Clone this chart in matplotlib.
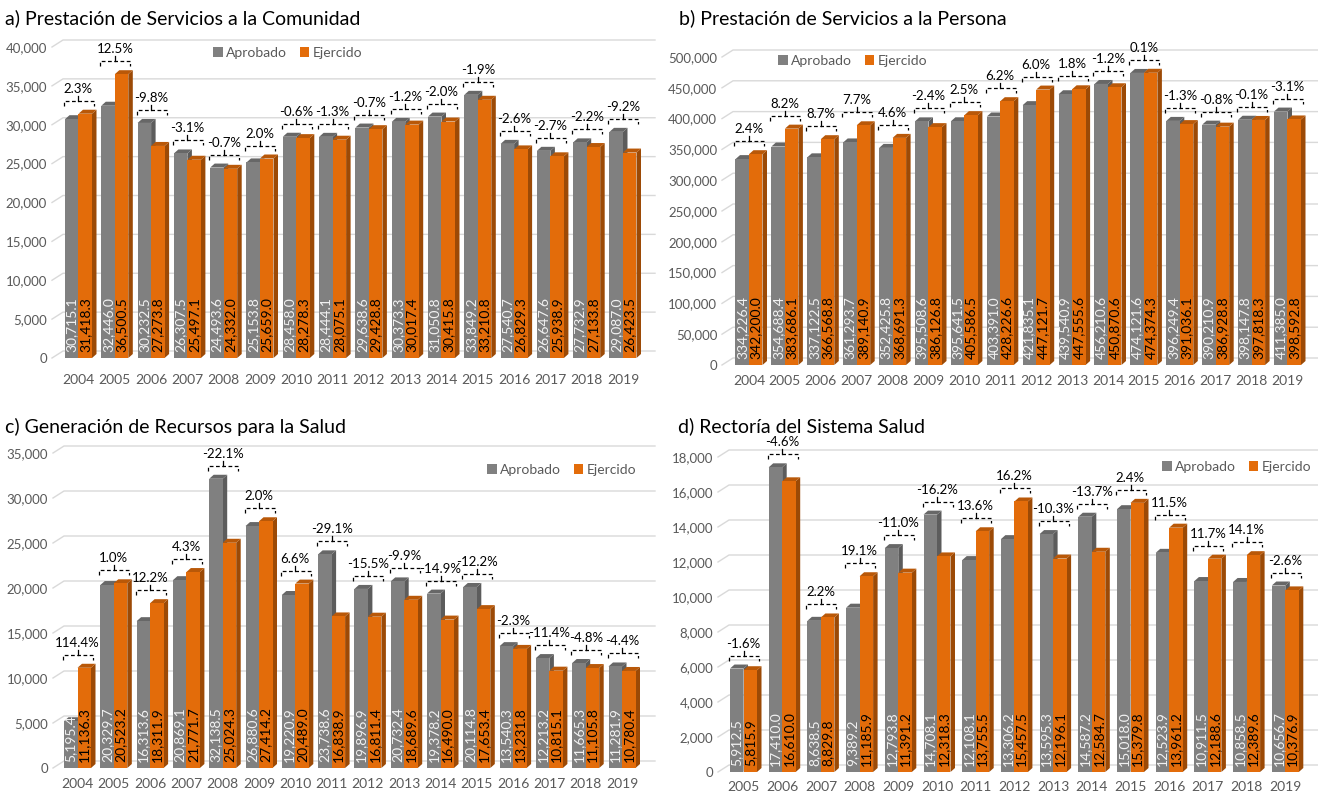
import matplotlib
matplotlib.use("Agg")
import matplotlib.pyplot as plt
from matplotlib.patches import Polygon, Rectangle, Patch

plt.rcParams["font.family"] = ["Lato", "DejaVu Sans"]

W, H, DPI = 1318, 793, 100

# ---- data -------------------------------------------------------------
years_a = list(range(2004, 2020))
aprobado_a = [30715.1, 32446.0, 30232.5, 26307.5, 24493.6, 25153.8, 28458.0, 28444.1,
              29638.6, 30373.3, 31050.8, 33849.2, 27540.7, 26647.6, 27732.9, 29087.0]
ejercido_a = [31418.3, 36500.5, 27273.8, 25497.1, 24332.0, 25659.0, 28278.3, 28075.1,
              29428.8, 30017.4, 30415.8, 33210.8, 26829.3, 25938.9, 27133.8, 26423.5]
var_a = [2.3, 12.5, -9.8, -3.1, -0.7, 2.0, -0.6, -1.3, -0.7, -1.2, -2.0, -1.9, -2.6, -2.7, -2.2, -9.2]

years_b = list(range(2004, 2020))
aprobado_b = [334226.4, 354688.4, 337122.5, 361293.7, 352425.8, 395508.6, 395641.5, 403391.0,
              421835.1, 439540.9, 456210.6, 474121.6, 396249.4, 390210.9, 398147.8, 411385.0]
ejercido_b = [342200.0, 383686.1, 366568.8, 389140.9, 368691.3, 386126.8, 405586.5, 428226.6,
              447121.7, 447555.6, 450870.6, 474374.3, 391036.1, 386928.8, 397818.3, 398592.8]
var_b = [2.4, 8.2, 8.7, 7.7, 4.6, -2.4, 2.5, 6.2, 6.0, 1.8, -1.2, 0.1, -1.3, -0.8, -0.1, -3.1]

years_c = list(range(2004, 2020))
aprobado_c = [5195.4, 20329.7, 16313.6, 20869.1, 32138.5, 26880.6, 19220.9, 23738.6,
              19896.9, 20732.4, 19378.2, 20114.8, 13540.3, 12213.2, 11665.3, 11281.9]
ejercido_c = [11136.3, 20523.2, 18311.9, 21771.7, 25024.3, 27414.2, 20489.0, 16838.9,
              16811.4, 18689.6, 16490.0, 17653.4, 13231.8, 10815.1, 11105.8, 10780.4]
var_c = [114.4, 1.0, 12.2, 4.3, -22.1, 2.0, 6.6, -29.1, -15.5, -9.9, -14.9, -12.2, -2.3, -11.4, -4.8, -4.4]

years_d = list(range(2005, 2020))
aprobado_d = [5912.5, 17410.0, 8638.5, 9389.2, 12793.8, 14708.1, 12108.1, 13306.2,
              13595.3, 14587.2, 15018.0, 12523.9, 10911.5, 10858.5, 10656.7]
ejercido_d = [5815.9, 16610.0, 8829.8, 11185.9, 11391.2, 12318.3, 13755.5, 15457.5,
              12196.1, 12584.7, 15379.8, 13961.2, 12188.6, 12389.6, 10376.9]
var_d = [-1.6, -4.6, 2.2, 19.1, -11.0, -16.2, 13.6, 16.2, -10.3, -13.7, 2.4, 11.5, 11.7, 14.1, -2.6]

GRAY, GRAY_SIDE, GRAY_TOP = "#808080", "#5c5c5c", "#676767"
ORANGE, ORANGE_SIDE, ORANGE_TOP = "#e36c0a", "#9c4a06", "#b95808"
GRID = "#d9d9d9"
TICK = "#595959"

panels = [
    dict(title="a) Prestación de Servicios a la Comunidad", title_xy=(5, 18),
         years=years_a, apr=aprobado_a, eje=ejercido_a, var=var_a,
         box=(52, 655, 358, 47), ymax=40000, step=5000, x0=78.5, pxyr=36.3,
         xlab_y=381, legend=(213, 53)),
    dict(title="b) Prestación de Servicios a la Persona", title_xy=(679, 18),
         years=years_b, apr=aprobado_b, eje=ejercido_b, var=var_b,
         box=(722, 1318, 365, 57), ymax=500000, step=50000, x0=749, pxyr=35.9,
         xlab_y=382, legend=(778, 61)),
    dict(title="c) Generación de Recursos para la Salud", title_xy=(5, 427),
         years=years_c, apr=aprobado_c, eje=ejercido_c, var=var_c,
         box=(53, 655, 768, 453), ymax=35000, step=5000, x0=77.5, pxyr=36.3,
         xlab_y=785, legend=(487, 470)),
    dict(title="d) Rectoría del Sistema Salud", title_xy=(678, 426),
         years=years_d, apr=aprobado_d, eje=ejercido_d, var=var_d,
         box=(718, 1318, 772, 457), ymax=18000, step=2000, x0=743.5, pxyr=38.7,
         xlab_y=788, legend=(1162, 467)),
]


def bar3d(ax, x, w, h, dx, dy, front, side, top):
    ax.add_patch(Polygon([(x + w, 0), (x + w + dx, dy), (x + w + dx, h + dy), (x + w, h)],
                         closed=True, fc=side, ec="none", zorder=2))
    ax.add_patch(Polygon([(x, h), (x + dx, h + dy), (x + w + dx, h + dy), (x + w, h)],
                         closed=True, fc=top, ec="none", zorder=2))
    ax.add_patch(Rectangle((x, 0), w, h, fc=front, ec="none", zorder=3))


fig = plt.figure(figsize=(W / DPI, H / DPI), dpi=DPI)

for p in panels:
    left, right, bottom, top = p["box"]
    ax = fig.add_axes([left / W, 1 - bottom / H, (right - left) / W, (bottom - top) / H])
    years = p["years"]
    sx = 1 / p["pxyr"]
    sy = p["ymax"] / (bottom - top)
    lo = years[0] - (p["x0"] - left) * sx
    hi = lo + (right - left) * sx
    ax.set_xlim(lo, hi)
    ax.set_ylim(0, p["ymax"])
    for s in ax.spines.values():
        s.set_visible(False)

    # back-wall gridlines with a short perspective lead-in
    ticks = list(range(0, p["ymax"] + 1, p["step"]))
    for v in ticks:
        ax.plot([lo, lo + 11 * sx, hi], [v, v + 7 * sy, v + 7 * sy],
                color=GRID, lw=1, zorder=0, clip_on=False)

    bw = 13.5 * sx
    dx, dy = 4.5 * sx, 4 * sy
    for yr, a, e, pct in zip(years, p["apr"], p["eje"], p["var"]):
        bar3d(ax, yr - bw, bw, a, dx, dy, GRAY, GRAY_SIDE, GRAY_TOP)
        bar3d(ax, yr, bw, e, dx, dy, ORANGE, ORANGE_SIDE, ORANGE_TOP)
        ax.text(yr - bw / 2, 6 * sy, f"{a:,.1f}", rotation=90, ha="center", va="bottom",
                fontsize=10, color="#f2f2f2", zorder=4)
        ax.text(yr + bw / 2, 6 * sy, f"{e:,.1f}", rotation=90, ha="center", va="bottom",
                fontsize=10, color="black", zorder=4)

        # dashed bracket with variation label
        yb = max(a, e) + dy + 9 * sy
        xl, xr = yr - bw - 1 * sx, yr + bw + 2 * sx
        ax.plot([xl, xl, xr, xr], [yb - 5 * sy, yb, yb, yb - 5 * sy], color="black",
                lw=0.9, ls=(0, (3, 2)), zorder=5, clip_on=False)
        ax.plot([yr, yr], [yb, yb + 5 * sy], color="black", lw=0.9, zorder=5, clip_on=False)
        ax.text(yr, yb + 6 * sy, f"{pct:.1f}%", ha="center", va="bottom",
                fontsize=9.5, color="black", zorder=5, clip_on=False)

    ax.set_yticks(ticks)
    ax.set_yticklabels([f"{v:,.0f}" for v in ticks])
    ax.set_xticks(years)
    ax.set_xticklabels([str(y) for y in years])
    ax.tick_params(axis="y", length=0, pad=3.5, labelsize=9.5, labelcolor=TICK)
    ax.tick_params(axis="x", length=0, pad=(p["xlab_y"] - bottom - 7) * 0.72,
                   labelsize=10, labelcolor=TICK)

    lx, ly = p["legend"]
    leg = ax.legend(handles=[Patch(fc=GRAY, label="Aprobado"), Patch(fc=ORANGE, label="Ejercido")],
                    loc="center left", bbox_to_anchor=(lx / W, 1 - ly / H),
                    bbox_transform=fig.transFigure, ncol=2, frameon=False, fontsize=10,
                    handlelength=0.7, handleheight=0.7, handletextpad=0.25,
                    columnspacing=0.9, borderpad=0, borderaxespad=0)
    for t in leg.get_texts():
        t.set_color(TICK)

    tx, ty = p["title_xy"]
    fig.text(tx / W, 1 - ty / H, p["title"], fontsize=14, ha="left", va="center",
             color="black")

fig.savefig("out.png", dpi=DPI)
